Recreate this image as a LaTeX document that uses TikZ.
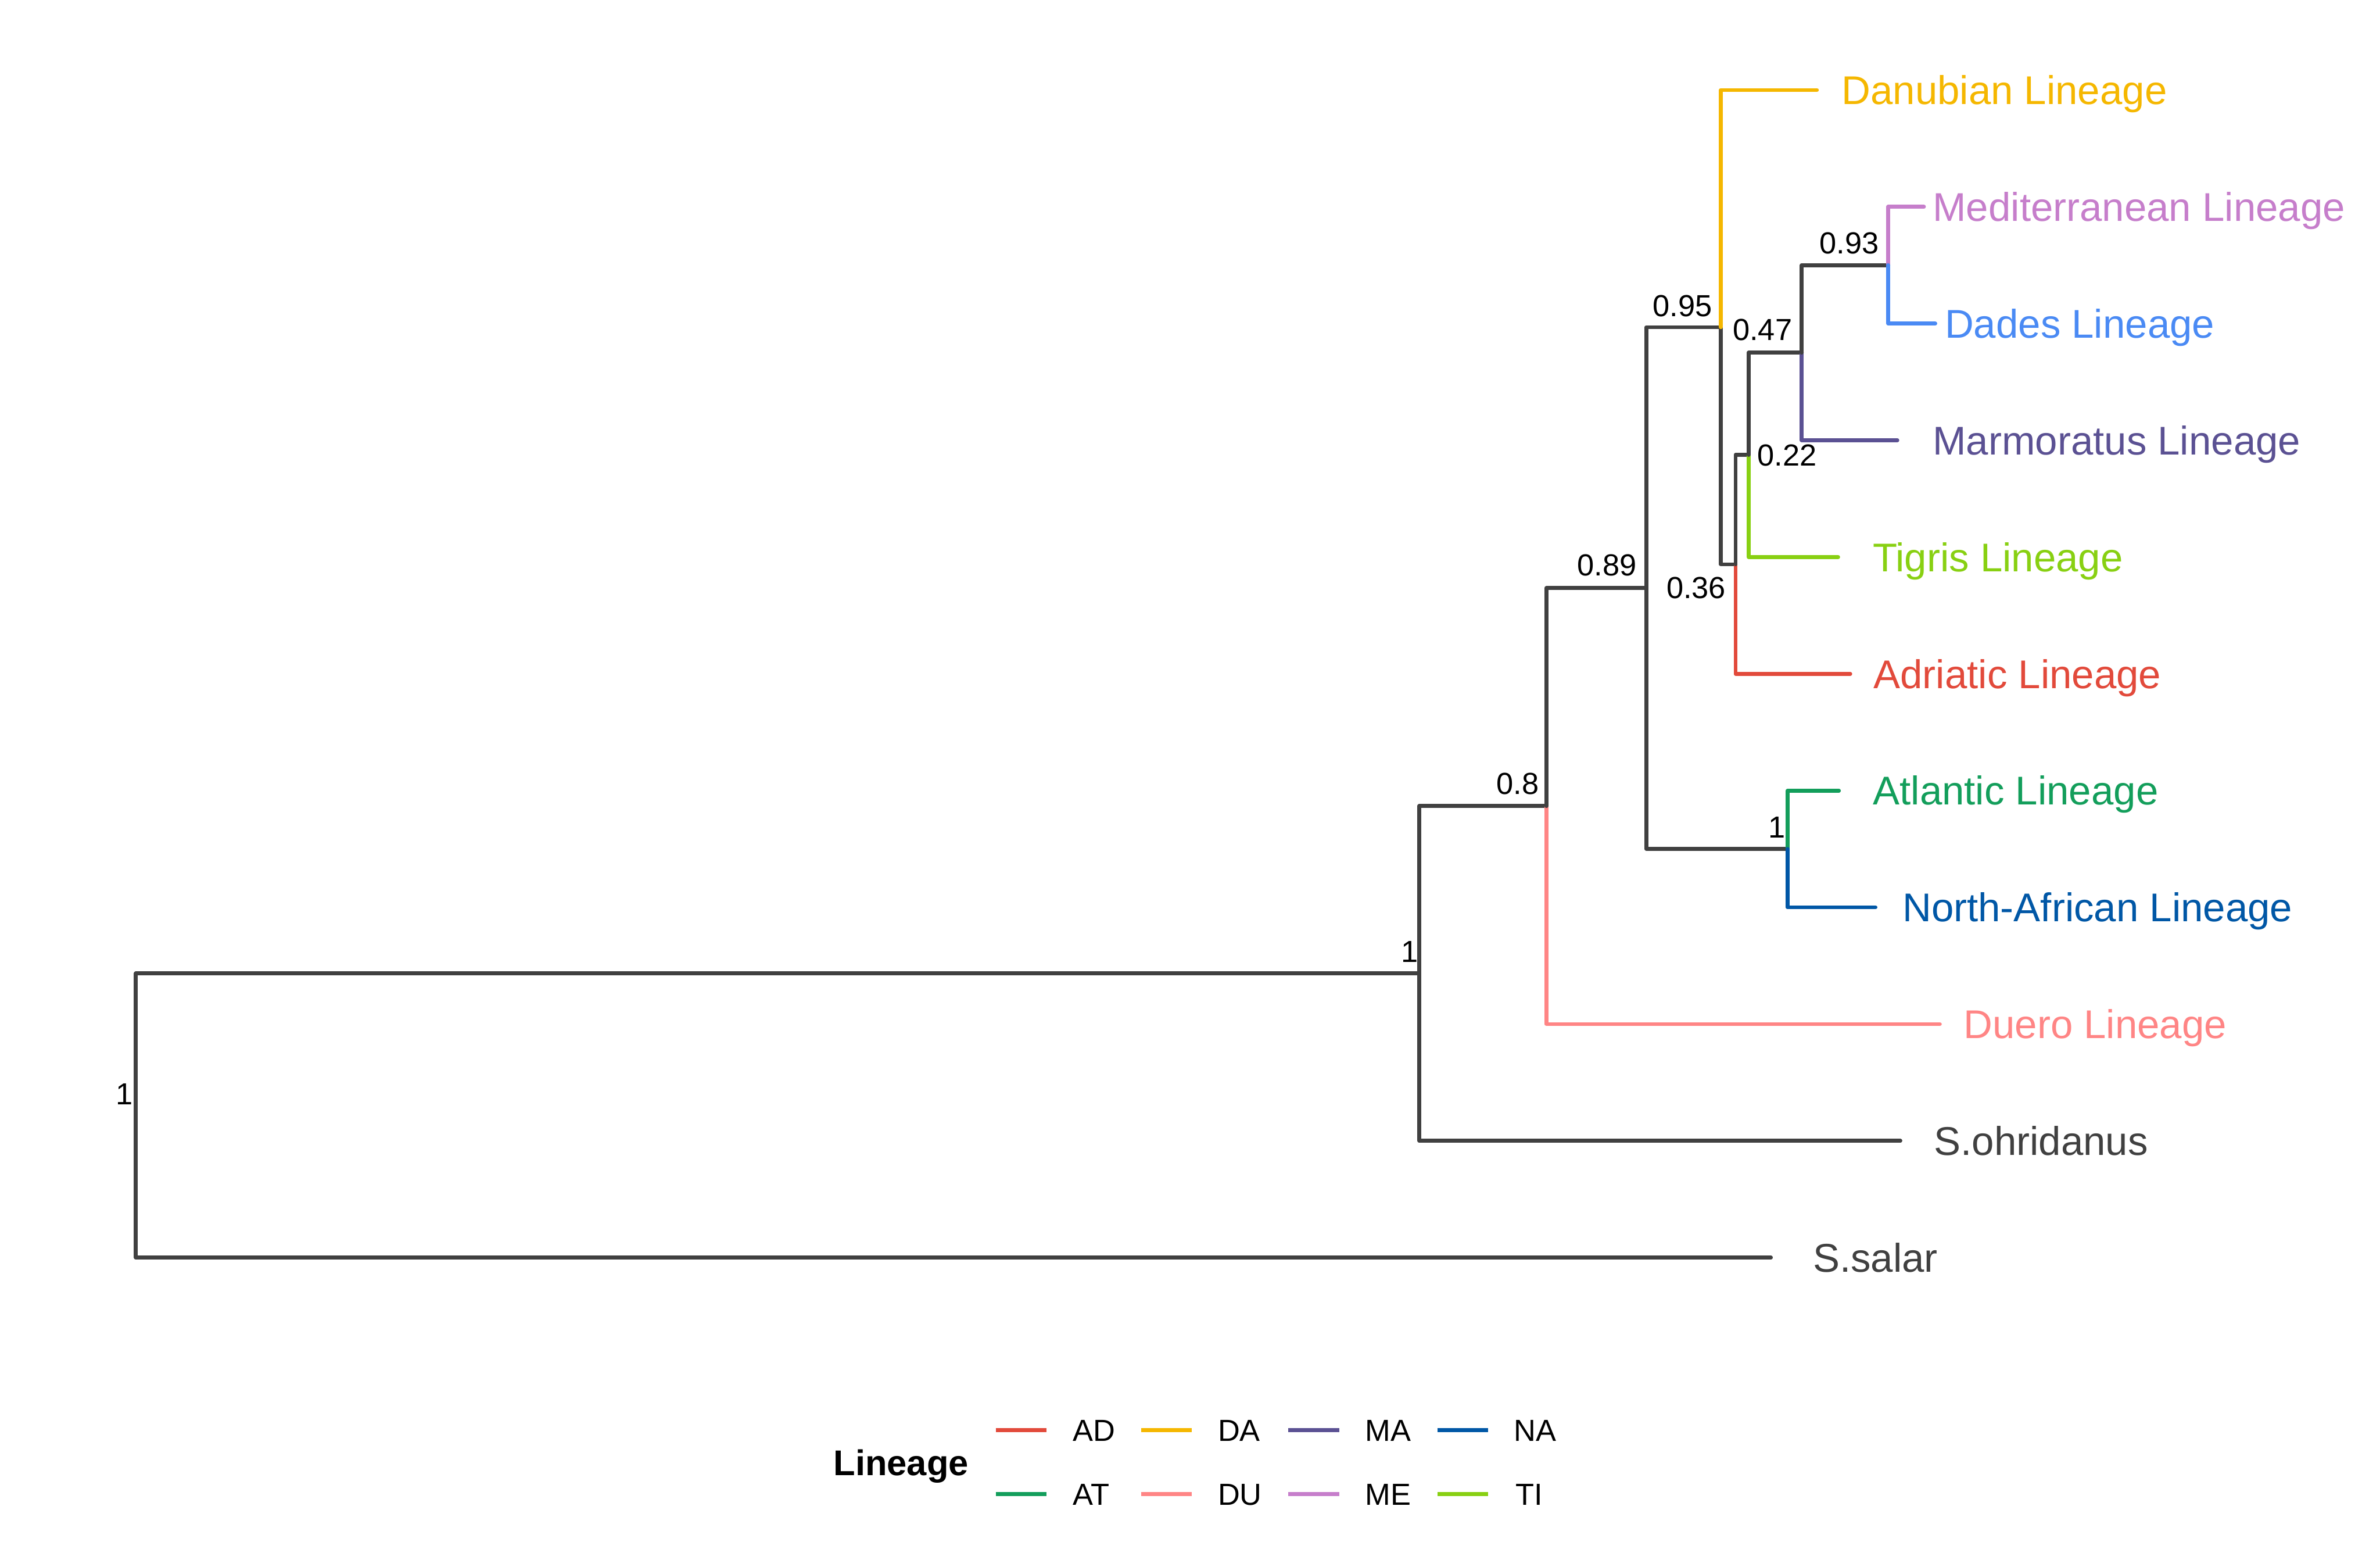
\documentclass[tikz,border=0pt]{standalone}
\usepackage{fontspec}
\setmainfont{Liberation Sans}
\usepackage{tikz}
\usetikzlibrary{positioning, calc}
\usepackage{xcolor}
\definecolor{treegray}{RGB}{64,64,64}
\definecolor{cAD}{RGB}{226,74,59}
\definecolor{cDA}{RGB}{245,183,0}
\definecolor{cMA}{RGB}{91,81,147}
\definecolor{cNA}{RGB}{0,87,166}
\definecolor{cAT}{RGB}{19,158,91}
\definecolor{cDU}{RGB}{255,133,133}
\definecolor{cME}{RGB}{198,126,203}
\definecolor{cTI}{RGB}{136,208,18}
\definecolor{cDD}{RGB}{74,138,244}

\tikzset{
	branch/.style={line width=1.25pt, line cap=round, line join=round, draw=treegray},
	tiplab/.style={font=\fontsize{12.9}{15}\selectfont, anchor=west, inner sep=0pt, text height=9.24pt, text depth=0pt},
	suplab/.style={font=\fontsize{9.8}{11}\selectfont, anchor=base east, inner sep=0pt},
	keyline/.style={line width=1.3pt},
	keylab/.style={font=\fontsize{9.8}{11}\selectfont, anchor=west, inner sep=0pt, text height=7.02pt, text depth=0pt}
}

\begin{document}
\begin{tikzpicture}[x=0.017165cm, y=-0.017165cm]
			\useasboundingbox (0,0) rectangle (1568,1032);
			
			% internal nodes
			\coordinate (root) at (89.5,734.7);
			\coordinate (n1) at (935,641.15);
			\coordinate (n8) at (1018.8,530.9);
			\coordinate (n89) at (1084.6,387.3);
			\coordinate (nATNA) at (1177.7,559.15);
			\coordinate (n95) at (1133.7,215.5);
			\coordinate (n36) at (1143.4,371.7);
			\coordinate (n22) at (1152,299.6);
			\coordinate (n47) at (1187,232.3);
			\coordinate (n93) at (1244,174.65);
			
			% tips
			\coordinate (DA) at (1197,59.3);
			\coordinate (ME) at (1267.5,136.2);
			\coordinate (DD) at (1275,213.1);
			\coordinate (MA) at (1250,290);
			\coordinate (TI) at (1211,366.9);
			\coordinate (AD) at (1219,443.8);
			\coordinate (AT) at (1211.5,520.7);
			\coordinate (NA) at (1235.6,597.6);
			\coordinate (DU) at (1278,674.5);
			\coordinate (SO) at (1252,751.4);
			\coordinate (SS) at (1166.7,828.3);
			
			\draw[branch] (root) |- (SS);
			\draw[branch] (root) |- (n1);
			\draw[branch] (n1) |- (SO);
			\draw[branch] (n1) |- (n8);
			\draw[branch, draw=cDU] (n8) |- (DU);
			\draw[branch] (n8) |- (n89);
			\draw[branch] (n89) |- (nATNA);
			\draw[branch] (n89) |- (n95);
			\draw[branch, draw=cAT] (nATNA) |- (AT);
			\draw[branch, draw=cNA] (nATNA) |- (NA);
			\draw[branch] (n95) |- (n36);
			\draw[branch, draw=cDA] (n95) |- (DA);
			\draw[branch, draw=cAD] (n36) |- (AD);
			\draw[branch] (n36) |- (n22);
			\draw[branch, draw=cTI] (n22) |- (TI);
			\draw[branch] (n22) |- (n47);
			\draw[branch, draw=cMA] (n47) |- (MA);
			\draw[branch] (n47) |- (n93);
			\draw[branch, draw=cME] (n93) |- (ME);
			\draw[branch, draw=cDD] (n93) |- (DD);
			
			\node[tiplab, text=cDA] (tDA) at (1212.9,59.3) {Danubian Lineage};
			\node[tiplab, text=cME] (tME) at (1273,136.2) {Mediterranean Lineage};
			\node[tiplab, text=cDD] (tDD) at (1280.9,213.1) {Dades Lineage};
			\node[tiplab, text=cMA] (tMA) at (1273,290) {Marmoratus Lineage};
			\node[tiplab, text=cTI] (tTI) at (1233.4,366.9) {Tigris Lineage};
			\node[tiplab, text=cAD] (tAD) at (1234,443.8) {Adriatic Lineage};
			\node[tiplab, text=cAT] (tAT) at (1233.6,520.7) {Atlantic Lineage};
			\node[tiplab, text=cNA] (tNA) at (1253,597.6) {North-African Lineage};
			\node[tiplab, text=cDU] (tDU) at (1293.3,674.5) {Duero Lineage};
			\node[tiplab, text=treegray] (tSO) at (1273.8,751.4) {S.ohridanus};
			\node[tiplab, text=treegray] (tSS) at (1194,828.3) {S.salar};
			
			\node[suplab] (lroot) at (87.9,727.6) {1};
			\node[suplab] (l1) at (934.6,633.6) {1};
			\node[suplab] (l8) at (1014.2,523) {0.8};
			\node[suplab] (l89) at (1078.6,379.3) {0.89};
			\node[suplab] (lATNA) at (1176.5,551.7) {1};
			\node[suplab] (l95) at (1128.4,208.6) {0.95};
			\node[suplab] (l36) at (1137.4,394) {0.36};
			\node[suplab] (l22) at (1197.4,307) {0.22};
			\node[suplab] (l47) at (1181.1,224.3) {0.47};
			\node[suplab] (l93) at (1238.2,167) {0.93};
			
			% legend
			\node[font=\bfseries\fontsize{11.5}{13}\selectfont, anchor=west, inner sep=0pt, text height=8.23pt, text depth=0pt] (legtitle) at (548.7,963.4) {Lineage};
			\draw[keyline, cAD] (656,942) -- (689.5,942);
			\draw[keyline, cDA] (751.7,942) -- (785,942);
			\draw[keyline, cMA] (848.7,942) -- (882.2,942);
			\draw[keyline, cNA] (947,942) -- (980.5,942);
			\draw[keyline, cAT] (656,984) -- (689.5,984);
			\draw[keyline, cDU] (751.7,984) -- (785,984);
			\draw[keyline, cME] (848.7,984) -- (882.2,984);
			\draw[keyline, cTI] (947,984) -- (980.5,984);
			\node[keylab] (kAD) at (706.6,942) {AD};
			\node[keylab] (kDA) at (802,942) {DA};
			\node[keylab] (kMA) at (899,942) {MA};
			\node[keylab] (kNA) at (996.9,942) {NA};
			\node[keylab] (kAT) at (706.6,984) {AT};
			\node[keylab] (kDU) at (802,984) {DU};
			\node[keylab] (kME) at (899,984) {ME};
			\node[keylab] (kTI) at (998.1,984) {TI};
		\end{tikzpicture}
\end{document}
